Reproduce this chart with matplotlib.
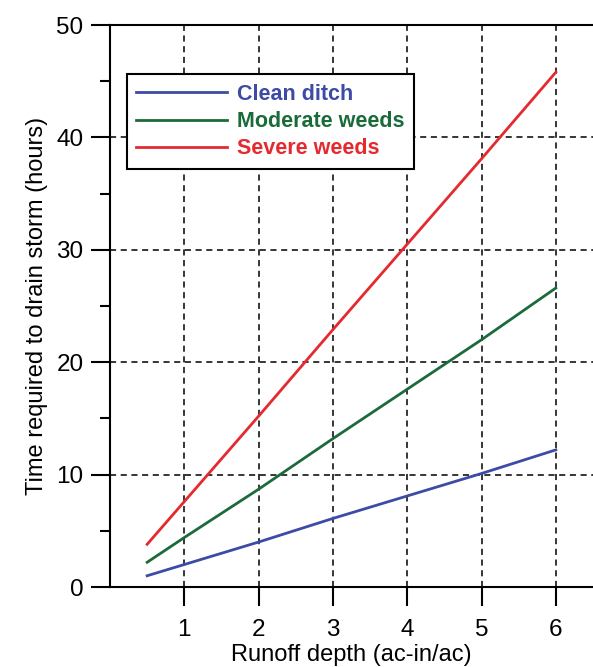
import matplotlib
matplotlib.use("Agg")
import matplotlib.pyplot as plt
from matplotlib.ticker import MultipleLocator

plt.rcParams['font.family'] = ['Liberation Sans', 'DejaVu Sans']

runoff = [0.5, 1, 2, 3, 4, 5, 6]
clean_ditch = [1.0, 2.0, 4.0, 6.1, 8.1, 10.1, 12.2]
moderate_weeds = [2.2, 4.4, 8.7, 13.2, 17.6, 22.0, 26.6]
severe_weeds = [3.8, 7.6, 15.2, 22.9, 30.5, 38.1, 45.8]
labels = ["Clean ditch", "Moderate weeds", "Severe weeds"]
colors = ["#3d4ba6", "#1b6b3a", "#e52a2f"]
xticks = [1, 2, 3, 4, 5, 6]
yticks = [0, 10, 20, 30, 40, 50]

fig = plt.figure(figsize=(5.93, 6.67), dpi=100)
ax = fig.add_axes([110/593, 1-587/667, 1-110/593, (587-25)/667])

for y, lab, c in zip([clean_ditch, moderate_weeds, severe_weeds], labels, colors):
    ax.plot(runoff, y, color=c, lw=2, label=lab)

ax.set_xlim(0, 6.5)
ax.set_ylim(0, 50)
ax.set_xticks(xticks)
ax.set_yticks(yticks)
ax.yaxis.set_minor_locator(MultipleLocator(5))
ax.tick_params(axis='both', which='major', length=14, width=1.5, direction='out', labelsize=17.5, pad=5)
ax.tick_params(axis='y', which='minor', length=7, width=1.5, direction='out')
ax.tick_params(axis='x', which='major', pad=9)

for s in ['left', 'bottom', 'top']:
    ax.spines[s].set_linewidth(1.5)
ax.spines['right'].set_visible(False)

ax.grid(True, which='major', color='black', linestyle=(0, (4, 3)), lw=1.1)

ax.set_xlabel("Runoff depth (ac-in/ac)", fontsize=17, labelpad=2)
ax.set_ylabel("Time required to drain storm (hours)", fontsize=17, labelpad=6)

leg = ax.legend(loc='upper left', bbox_to_anchor=(0.0346, 0.913), borderaxespad=0,
                fancybox=False, edgecolor='black', framealpha=1, handlelength=4.2,
                handletextpad=0.46, labelspacing=0.3, borderpad=0.45,
                prop={'weight': 'bold', 'size': 15.5}, labelcolor='linecolor')
leg.get_frame().set_linewidth(1.5)

fig.savefig("out.png", dpi=100)
